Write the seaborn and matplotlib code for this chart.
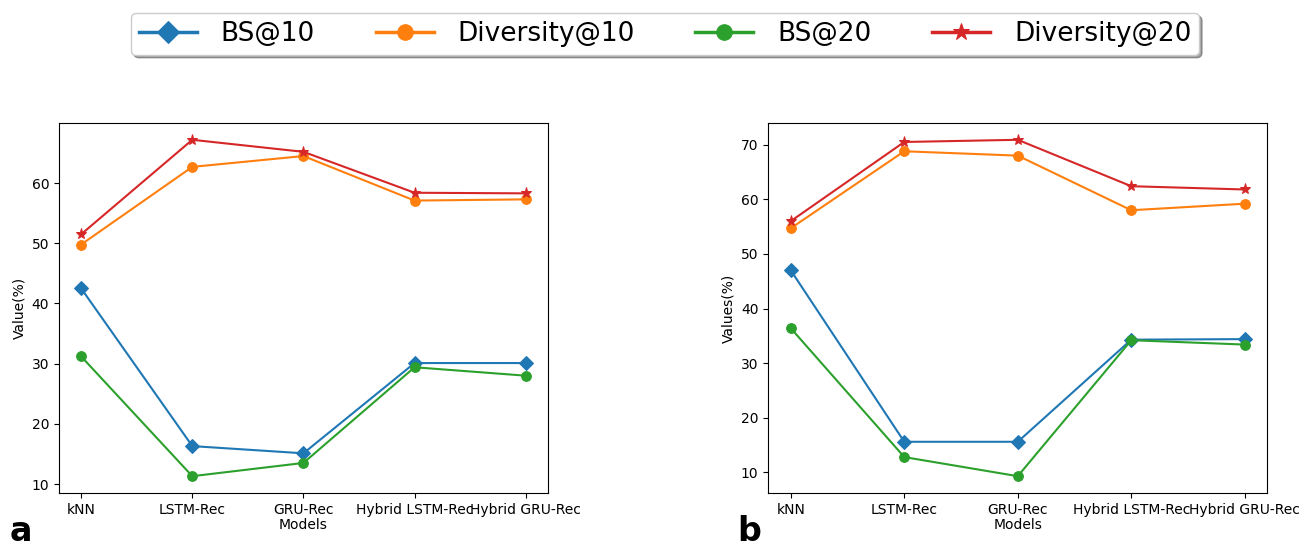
import numpy as np
import pandas as pd
import seaborn as sns
import matplotlib
matplotlib.use('Agg')
import matplotlib.pyplot as plt

# %% Dados

modelos = ['kNN', 'LSTM-Rec', 'GRU-Rec', 'Hybrid LSTM-Rec', 'Hybrid GRU-Rec']

# painel a
bs10_a = [42.5, 16.3, 15.1, 30.1, 30.1]
div10_a = [49.8, 62.7, 64.5, 57.1, 57.3]
bs20_a = [31.2, 11.3, 13.5, 29.4, 28.0]
div20_a = [51.5, 67.2, 65.2, 58.4, 58.3]

# painel b
bs10_b = [47.0, 15.6, 15.6, 34.3, 34.4]
div10_b = [54.7, 68.8, 68.0, 58.0, 59.2]
bs20_b = [36.4, 12.8, 9.3, 34.2, 33.4]
div20_b = [56.0, 70.5, 70.9, 62.4, 61.8]

series = ['BS@10', 'Diversity@10', 'BS@20', 'Diversity@20']
marcadores = {'BS@10': 'D', 'Diversity@10': 'o', 'BS@20': 'o', 'Diversity@20': '*'}
tamanhos = {'BS@10': 7, 'Diversity@10': 7, 'BS@20': 7, 'Diversity@20': 8}
cores = dict(zip(series, sns.color_palette('tab10', 4)))

dados_a = dict(zip(series, [bs10_a, div10_a, bs20_a, div20_a]))
dados_b = dict(zip(series, [bs10_b, div10_b, bs20_b, div20_b]))

# %% Gráficos

fig = plt.figure(figsize=(13.04, 5.49), dpi=100)
ax1 = fig.add_axes([0.0452, 0.102, 0.375, 0.674])
ax2 = fig.add_axes([0.589, 0.102, 0.383, 0.674])


def desenha(ax, dados, ylabel):
    for s in series:
        df = pd.DataFrame({'Models': modelos, 'Value': dados[s]})
        sns.lineplot(data=df, x='Models', y='Value', ax=ax, color=cores[s],
                     marker=marcadores[s], markersize=tamanhos[s],
                     markeredgecolor=cores[s], linewidth=1.5, label=s, sort=False)
    ax.set_xlabel('Models', fontsize=10, labelpad=1)
    ax.set_ylabel(ylabel, fontsize=10)
    ax.tick_params(labelsize=10)
    ax.margins(x=0.05, y=0.05)


desenha(ax1, dados_a, 'Value(%)')
desenha(ax2, dados_b, 'Values(%)')

handles, labels = ax1.get_legend_handles_labels()
ax1.get_legend().remove()
ax2.get_legend().remove()

leg = fig.legend(handles, labels, loc='center', bbox_to_anchor=(0.51, 0.938), ncol=4,
                 fontsize=19, shadow=True, markerscale=1.6, handlelength=2.2,
                 handletextpad=0.9, columnspacing=2.3, borderpad=0.3, framealpha=1)
for linha in leg.get_lines():
    linha.set_linewidth(2.5)

fig.text(0.007, 0.015, 'a', fontsize=24, fontweight='bold')
fig.text(0.565, 0.015, 'b', fontsize=24, fontweight='bold')

plt.savefig('out.png', dpi=100)
